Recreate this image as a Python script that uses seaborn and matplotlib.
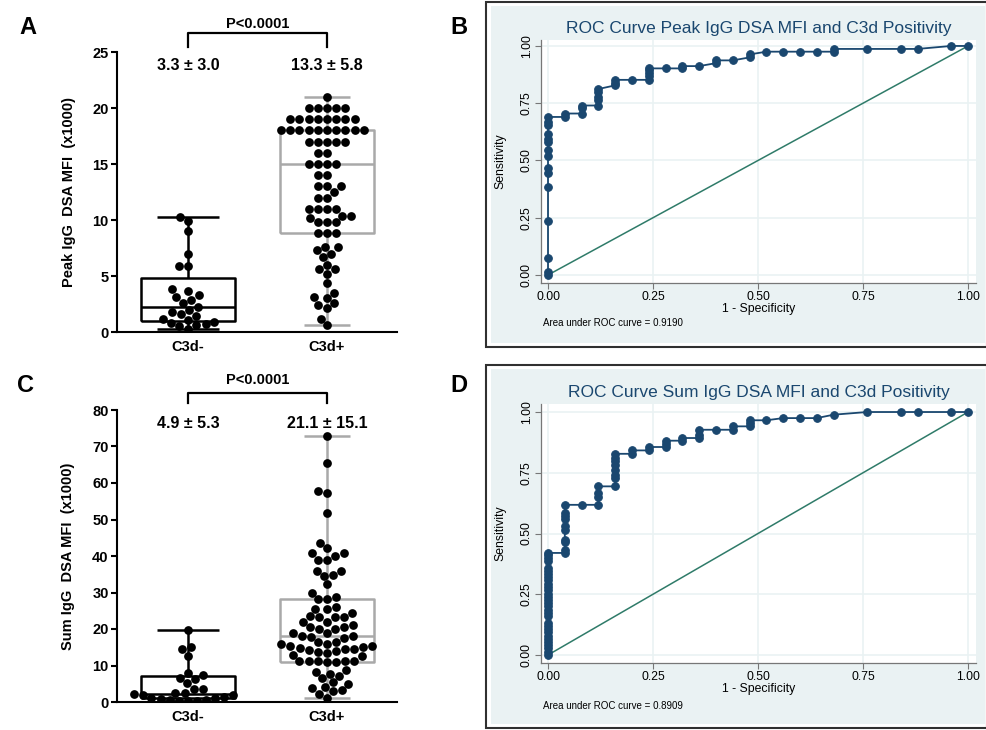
import matplotlib
matplotlib.use("Agg")
import matplotlib.pyplot as plt
import seaborn as sns
import pandas as pd
from matplotlib.patches import Rectangle

groups = ["C3d-", "C3d+"]

# Panel A - peak IgG DSA MFI (x1000)
peak_neg = [10.3, 9.9, 9.0, 7.0, 5.9, 5.9, 3.8, 3.7, 3.3, 3.1, 2.9, 2.6, 2.2,
            2.0, 1.8, 1.6, 1.4, 1.2, 1.1, 0.9, 0.8, 0.7, 0.6, 0.5, 0.3]
peak_pos = [21.0, 20.0, 20.0, 20.0, 20.0, 20.0,
            19.0, 19.0, 19.0, 19.0, 19.0, 19.0, 19.0, 19.0,
            18.0, 18.0, 18.0, 18.0, 18.0, 18.0, 18.0, 18.0, 18.0, 18.0,
            17.0, 17.0, 17.0, 17.0, 17.0, 16.0, 16.0, 15.0, 15.0, 15.0, 15.0,
            14.0, 14.0, 13.0, 13.0, 13.0, 12.5, 12.0, 12.0,
            11.0, 11.0, 11.0, 11.0, 10.4, 10.4, 10.2, 9.8, 9.8, 9.8,
            8.8, 8.8, 8.8, 7.6, 7.55, 7.3, 7.0, 6.7, 6.0, 5.6, 5.6, 5.2, 4.4,
            3.5, 3.1, 3.05, 2.6, 2.4, 2.1, 1.2, 0.6]

# Panel C - sum IgG DSA MFI (x1000)
sum_neg = [19.7, 15.0, 14.4, 12.6, 7.9, 7.4, 6.7, 6.3, 5.1, 3.5, 3.5, 2.5, 2.5,
           2.2, 2.0, 1.8, 1.5, 1.2, 1.0, 0.8, 0.6, 0.5, 0.4, 0.3, 0.2]
sum_pos = [72.9, 65.6, 57.9, 57.3, 51.9, 43.5, 42.1, 40.9, 40.7, 40.0, 38.9, 38.9,
           36.0, 36.0, 34.8, 34.5, 32.2, 30.0, 28.7, 28.1, 28.1, 26.1, 25.4, 25.4,
           24.3, 23.5, 23.2, 23.2, 23.2, 22.0, 22.0, 21.0, 20.6, 20.6, 19.9, 19.9,
           18.8, 18.8, 18.0, 18.0, 17.9, 17.5, 16.5, 16.5, 15.8, 15.8,
           15.4, 15.3, 15.1, 14.8, 14.5, 14.2, 13.9, 13.6, 13.3, 13.0, 12.7, 14.6,
           11.3, 11.2, 11.1, 11.0, 11.3, 11.2, 10.9,
           8.8, 8.2, 7.8, 7.2, 6.5, 5.5, 5.0,
           4.2, 3.8, 3.2, 2.9, 2.2, 1.0]

# box summaries: (q1, median, q3); whiskers = min..max
peak_box = [(1.0, 2.2, 4.8), (8.8, 15.0, 18.0)]
sum_box = [(1.2, 2.3, 7.2), (11.0, 18.0, 28.2)]

peak_labels = ["3.3 \u00b1 3.0", "13.3 \u00b1 5.8"]
sum_labels = ["4.9 \u00b1 5.3", "21.1 \u00b1 15.1"]

# Panel B - ROC, peak IgG
fpr_peak = [0, 0, 0, 0, 0, 0, 0, 0, 0, 0, 0, 0, 0, 0, 0,
            0.04, 0.04, 0.08, 0.08, 0.08, 0.12, 0.12, 0.12, 0.12, 0.12,
            0.16, 0.16, 0.16, 0.20, 0.24, 0.24, 0.24, 0.24, 0.24, 0.28,
            0.32, 0.32, 0.36, 0.40, 0.40, 0.44, 0.48, 0.48,
            0.52, 0.56, 0.60, 0.64, 0.68, 0.68, 0.76, 0.84, 0.88, 0.96, 1.0]
tpr_peak = [0, 0.013, 0.073, 0.234, 0.382, 0.444, 0.469, 0.520, 0.545, 0.580,
            0.592, 0.615, 0.655, 0.667, 0.690,
            0.690, 0.705, 0.705, 0.728, 0.740, 0.740, 0.765, 0.778, 0.800, 0.812,
            0.828, 0.840, 0.852, 0.852, 0.852, 0.870, 0.884, 0.895, 0.902, 0.902,
            0.902, 0.912, 0.912, 0.925, 0.937, 0.937, 0.950, 0.963,
            0.975, 0.975, 0.975, 0.975, 0.975, 0.987, 0.987, 0.987, 0.987, 1.0, 1.0]

# Panel D - ROC, sum IgG
fpr_sum = [0, 0, 0, 0, 0, 0, 0, 0, 0, 0, 0, 0, 0, 0, 0, 0,
           0, 0, 0, 0, 0, 0, 0, 0, 0, 0, 0, 0, 0, 0, 0,
           0.04, 0.04, 0.04, 0.04, 0.04, 0.04, 0.04, 0.04, 0.04, 0.04,
           0.08, 0.12, 0.12, 0.12, 0.12,
           0.16, 0.16, 0.16, 0.16, 0.16, 0.16, 0.16, 0.16,
           0.20, 0.20, 0.24, 0.24, 0.28, 0.28, 0.28, 0.32, 0.32,
           0.36, 0.36, 0.36, 0.40, 0.44, 0.44, 0.48, 0.48, 0.48, 0.52,
           0.56, 0.60, 0.64, 0.68, 0.76, 0.84, 0.88, 0.96, 1.0]
tpr_sum = [0, 0.013, 0.027, 0.040, 0.053, 0.067, 0.080, 0.093, 0.107, 0.120,
           0.133, 0.160, 0.173, 0.187, 0.200, 0.213, 0.227, 0.240, 0.253, 0.267,
           0.280, 0.293, 0.307, 0.320, 0.333, 0.347, 0.360, 0.387, 0.400, 0.413, 0.420,
           0.420, 0.433, 0.463, 0.474, 0.515, 0.529, 0.559, 0.573, 0.584, 0.618,
           0.618, 0.618, 0.652, 0.666, 0.694,
           0.694, 0.728, 0.742, 0.762, 0.780, 0.797, 0.809, 0.828,
           0.828, 0.842, 0.842, 0.856, 0.856, 0.870, 0.882, 0.882, 0.893,
           0.893, 0.907, 0.927, 0.927, 0.927, 0.941, 0.941, 0.955, 0.966, 0.966,
           0.975, 0.975, 0.975, 0.989, 1.0, 1.0, 1.0, 1.0, 1.0]

diag = [0, 1]
roc_ticks = [0, 0.25, 0.5, 0.75, 1.0]

plt.rcParams["font.family"] = ["Liberation Sans", "DejaVu Sans"]

W, H = 987, 730
fig = plt.figure(figsize=(9.87, 7.30), dpi=100)


def px_axes(left, top, right, bottom):
    return fig.add_axes([left / W, 1 - bottom / H, (right - left) / W, (bottom - top) / H])


def dot_panel(ax, neg, pos, boxes, labels, ymax, ystep, ylabel, ann_y, br_lo, br_hi, p_y):
    df = pd.DataFrame({"group": [groups[0]] * len(neg) + [groups[1]] * len(pos),
                       "mfi": neg + pos})
    colors = ["black", "#a9a9a9"]
    capw = [0.45, 0.33]
    for i, vals in enumerate([neg, pos]):
        q1, med, q3 = boxes[i]
        st = [dict(q1=q1, med=med, q3=q3, whislo=min(vals), whishi=max(vals), fliers=[])]
        lp = dict(color=colors[i], linewidth=1.8, solid_capstyle="butt")
        ax.bxp(st, positions=[i], widths=0.67, capwidths=capw[i], showfliers=False,
               boxprops=lp, medianprops=lp, whiskerprops=lp, capprops=lp,
               manage_ticks=False, zorder=1)
    sns.swarmplot(data=df, x="group", y="mfi", order=groups, color="black",
                  size=6.3, linewidth=0, ax=ax, zorder=3)
    ax.set_xlim(-0.511, 1.504)
    ax.set_ylim(0, ymax)
    ax.set_yticks(range(0, ymax + 1, ystep))
    for s in ["top", "right"]:
        ax.spines[s].set_visible(False)
    for s in ["left", "bottom"]:
        ax.spines[s].set_linewidth(1.5)
    ax.tick_params(axis="x", length=0, pad=6, labelsize=10.5)
    ax.tick_params(axis="y", length=4, width=1.5, pad=2, labelsize=10.5)
    for t in ax.get_xticklabels() + ax.get_yticklabels():
        t.set_fontweight("bold")
    ax.set_xlabel("")
    ax.set_ylabel(ylabel, fontweight="bold", fontsize=10.5, labelpad=12)
    for i, lab in enumerate(labels):
        ax.text(i, ann_y, lab, ha="center", va="center", fontsize=11.5, fontweight="bold")
    ax.plot([0, 0, 1, 1], [br_lo, br_hi, br_hi, br_lo], color="black", lw=1.6, clip_on=False)
    ax.text(0.5, p_y, "P<0.0001", ha="center", va="center", fontsize=10.5,
            fontweight="bold", clip_on=False)


def roc_panel(ax, fpr, tpr, title, auc_text, frame_top, frame_bottom, auc_y):
    fig.add_artist(Rectangle((486 / W, 1 - frame_bottom / H), (W - 486) / W,
                             (frame_bottom - frame_top) / H, transform=fig.transFigure,
                             facecolor="white", edgecolor="#303030", lw=1.5, zorder=-2))
    fig.add_artist(Rectangle((491 / W, 1 - (frame_bottom - 4) / H), (W - 493) / W,
                             (frame_bottom - frame_top - 8) / H, transform=fig.transFigure,
                             facecolor="#eaf2f3", edgecolor="none", zorder=-1))
    ax.set_facecolor("white")
    ax.grid(True, color="#eaf2f3", lw=1.2)
    ax.set_axisbelow(True)
    sns.lineplot(x=diag, y=diag, color="#2f7b69", lw=1.1, ax=ax)
    sns.lineplot(x=fpr, y=tpr, sort=False, estimator=None, color="#1a476f", lw=1.3,
                 marker="o", markersize=5.5, markeredgecolor="#1a476f", ax=ax)
    ax.set_xticks(roc_ticks)
    ax.set_yticks(roc_ticks)
    ax.set_xticklabels([f"{v:.2f}" for v in roc_ticks])
    ax.set_yticklabels([f"{v:.2f}" for v in roc_ticks], rotation=90, va="center")
    for s in ["top", "right"]:
        ax.spines[s].set_visible(False)
    for s in ["left", "bottom"]:
        ax.spines[s].set_color("#777777")
        ax.spines[s].set_linewidth(0.9)
    ax.tick_params(length=4, width=0.8, color="#777777", labelsize=8.8, pad=2)
    ax.set_xlabel("1 - Specificity", fontsize=8.8, labelpad=0)
    ax.set_ylabel("Sensitivity", fontsize=8.8, labelpad=10)
    ax.set_title(title, color="#1a476f", fontsize=12.5, pad=5)
    ax.text(0.005, auc_y, auc_text, transform=ax.transAxes, fontsize=7, va="center")


ax_a = px_axes(117, 52, 397, 332)
dot_panel(ax_a, peak_neg, peak_pos, peak_box, peak_labels, 25, 5,
          "Peak IgG  DSA MFI  (x1000)", 23.8, 25.45, 26.7, 27.5)

ax_c = px_axes(117, 410, 397, 702)
dot_panel(ax_c, sum_neg, sum_pos, sum_box, sum_labels, 80, 10,
          "Sum IgG  DSA MFI  (x1000)", 76.4, 81.9, 84.7, 88.2)

ax_b = px_axes(541, 40, 976, 283)
ax_b.set_xlim(-0.0167, 1.019)
ax_b.set_ylim(-0.035, 1.026)
roc_panel(ax_b, fpr_peak, tpr_peak, "ROC Curve Peak IgG DSA MFI and C3d Positivity",
          "Area under ROC curve = 0.9190", 2, 347, -0.165)

ax_d = px_axes(541, 404, 976, 663)
ax_d.set_xlim(-0.0167, 1.019)
ax_d.set_ylim(-0.033, 1.033)
roc_panel(ax_d, fpr_sum, tpr_sum, "ROC Curve Sum IgG DSA MFI and C3d Positivity",
          "Area under ROC curve = 0.8909", 365, 728, -0.165)

for lab, x, y in [("A", 28, 27), ("B", 459, 27), ("C", 26, 385), ("D", 459, 385)]:
    fig.text(x / W, 1 - y / H, lab, fontsize=17, fontweight="bold", ha="center", va="center")

fig.savefig("out.png", dpi=100)
